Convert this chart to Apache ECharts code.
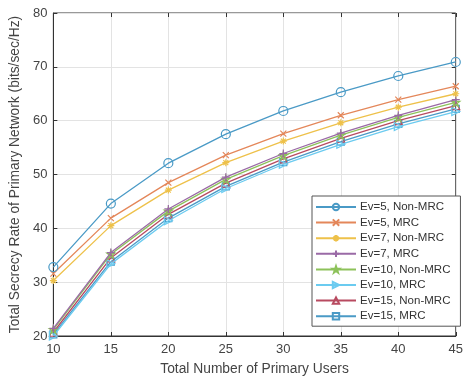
<!DOCTYPE html>
<html><head><meta charset="utf-8">
<script src="https://cdn.jsdelivr.net/npm/echarts@6/dist/echarts.min.js"></script>
<style>html,body{margin:0;padding:0;background:#fff}#c{width:466px;height:381px}</style>
</head><body><div id="c"></div>
<script>
var users = [10, 15, 20, 25, 30, 35, 40, 45];
var ev5NonMRC  = [32.8, 44.6, 52.1, 57.5, 61.8, 65.3, 68.3, 70.9];
var ev5MRC     = [31.6, 41.9, 48.5, 53.6, 57.6, 61.0, 63.9, 66.4];
var ev7NonMRC  = [30.3, 40.5, 47.1, 52.2, 56.2, 59.6, 62.5, 65.0];
var ev7MRC     = [21.4, 35.5, 43.6, 49.5, 53.9, 57.7, 61.0, 63.9];
var ev10NonMRC = [21.2, 35.2, 43.2, 49.1, 53.5, 57.3, 60.6, 63.4];
var ev10MRC    = [20.0, 33.4, 41.4, 47.4, 51.9, 55.6, 58.9, 61.7];
var ev15NonMRC = [20.7, 34.5, 42.6, 48.4, 52.9, 56.7, 60.0, 62.8];
var ev15MRC    = [20.3, 33.8, 41.9, 47.8, 52.3, 56.1, 59.4, 62.2];
var seriesNames = ['Ev=5, Non-MRC','Ev=5, MRC','Ev=7, Non-MRC','Ev=7, MRC','Ev=10, Non-MRC','Ev=10, MRC','Ev=15, Non-MRC','Ev=15, MRC'];
var xTicks = [10, 15, 20, 25, 30, 35, 40, 45];
var yTicks = [20, 30, 40, 50, 60, 70, 80];

var colors = ['#4a9ac6','#e4875a','#eec14a','#9a6aa6','#8dc25a','#6bcbf0','#b84a60','#4a9ac6'];
var symbols = [
  'circle',
  'path://M0,0L10,10M10,0L0,10Z',
  'path://M5,0L5,10M0,5L10,5M1.5,1.5L8.5,8.5M8.5,1.5L1.5,8.5',
  'path://M5,0L5,10M0,5L10,5',
  'path://M5,0L6.2,3.8L10,3.8L6.9,6.1L8.1,10L5,7.6L1.9,10L3.1,6.1L0,3.8L3.8,3.8Z',
  'path://M0,0L10,5L0,10Z',
  'triangle',
  'rect'
];
var sizes = [9, 6, 7, 8, 8, 8, 8, 7];
var allData = [ev5NonMRC, ev5MRC, ev7NonMRC, ev7MRC, ev10NonMRC, ev10MRC, ev15NonMRC, ev15MRC];

var series = allData.map(function(d, i){
  return {
    name: seriesNames[i], type: 'line', data: d.map(function(v, j){return [users[j], v];}),
    symbol: symbols[i], symbolSize: sizes[i], showAllSymbol: true,
    lineStyle: {color: colors[i], width: 1.3},
    itemStyle: {color: 'rgba(255,255,255,0)', borderColor: colors[i], borderWidth: 1.2},
    emphasis: {disabled: true}, animation: false, z: 10 - i
  };
});

var font = 'Liberation Sans, Arial, sans-serif';
var tickLabel = {color: '#444', fontSize: 13, fontFamily: font};
var chart = echarts.init(document.getElementById('c'));
chart.setOption({
  animation: false,
  grid: {left: 52, right: 4, top: 13, bottom: 44, show: true, borderColor: '#333', borderWidth: 1},
  xAxis: [{
    type: 'value', min: 10, max: 45, interval: 5,
    name: 'Total Number of Primary Users', nameLocation: 'middle', nameGap: 26,
    nameTextStyle: {color: '#444', fontSize: 13.8, fontFamily: font},
    axisLine: {show: true, lineStyle: {color: '#333'}},
    axisTick: {inside: true, length: 4, lineStyle: {color: '#333'}},
    axisLabel: Object.assign({margin: 7, formatter: function(v){return xTicks.indexOf(v) >= 0 ? String(v) : '';}}, tickLabel),
    splitLine: {show: true, lineStyle: {color: '#e3e3e3'}}
  },{
    type: 'value', position: 'top', min: 10, max: 45, interval: 5,
    axisLine: {show: false}, axisLabel: {show: false},
    axisTick: {inside: true, length: 4, lineStyle: {color: '#333'}}, splitLine: {show: false}
  }],
  yAxis: [{
    type: 'value', min: 20, max: 80, interval: 10,
    name: 'Total Secrecy Rate of Primary Network (bits/sec/Hz)', nameLocation: 'middle', nameGap: 25,
    nameTextStyle: {color: '#444', fontSize: 13.8, fontFamily: font},
    axisLine: {show: true, lineStyle: {color: '#333'}},
    axisTick: {inside: true, length: 4, lineStyle: {color: '#333'}},
    axisLabel: Object.assign({margin: 6, formatter: function(v){return yTicks.indexOf(v) >= 0 ? String(v) : '';}}, tickLabel),
    splitLine: {show: true, lineStyle: {color: '#e3e3e3'}}
  },{
    type: 'value', position: 'right', min: 20, max: 80, interval: 10,
    axisLine: {show: false}, axisLabel: {show: false},
    axisTick: {inside: true, length: 4, lineStyle: {color: '#333'}}, splitLine: {show: false}
  }],
  legend: {
    orient: 'vertical', left: 312, top: 196,
    backgroundColor: '#fff', borderColor: '#555', borderWidth: 1,
    padding: [5, 10, 4, 3], itemGap: 3.6, itemWidth: 40, itemHeight: 8,
    textStyle: {color: '#333', fontSize: 11.5, fontFamily: font, padding: [0,0,0,-1]},
    data: seriesNames
  },
  series: series
});
</script></body></html>
